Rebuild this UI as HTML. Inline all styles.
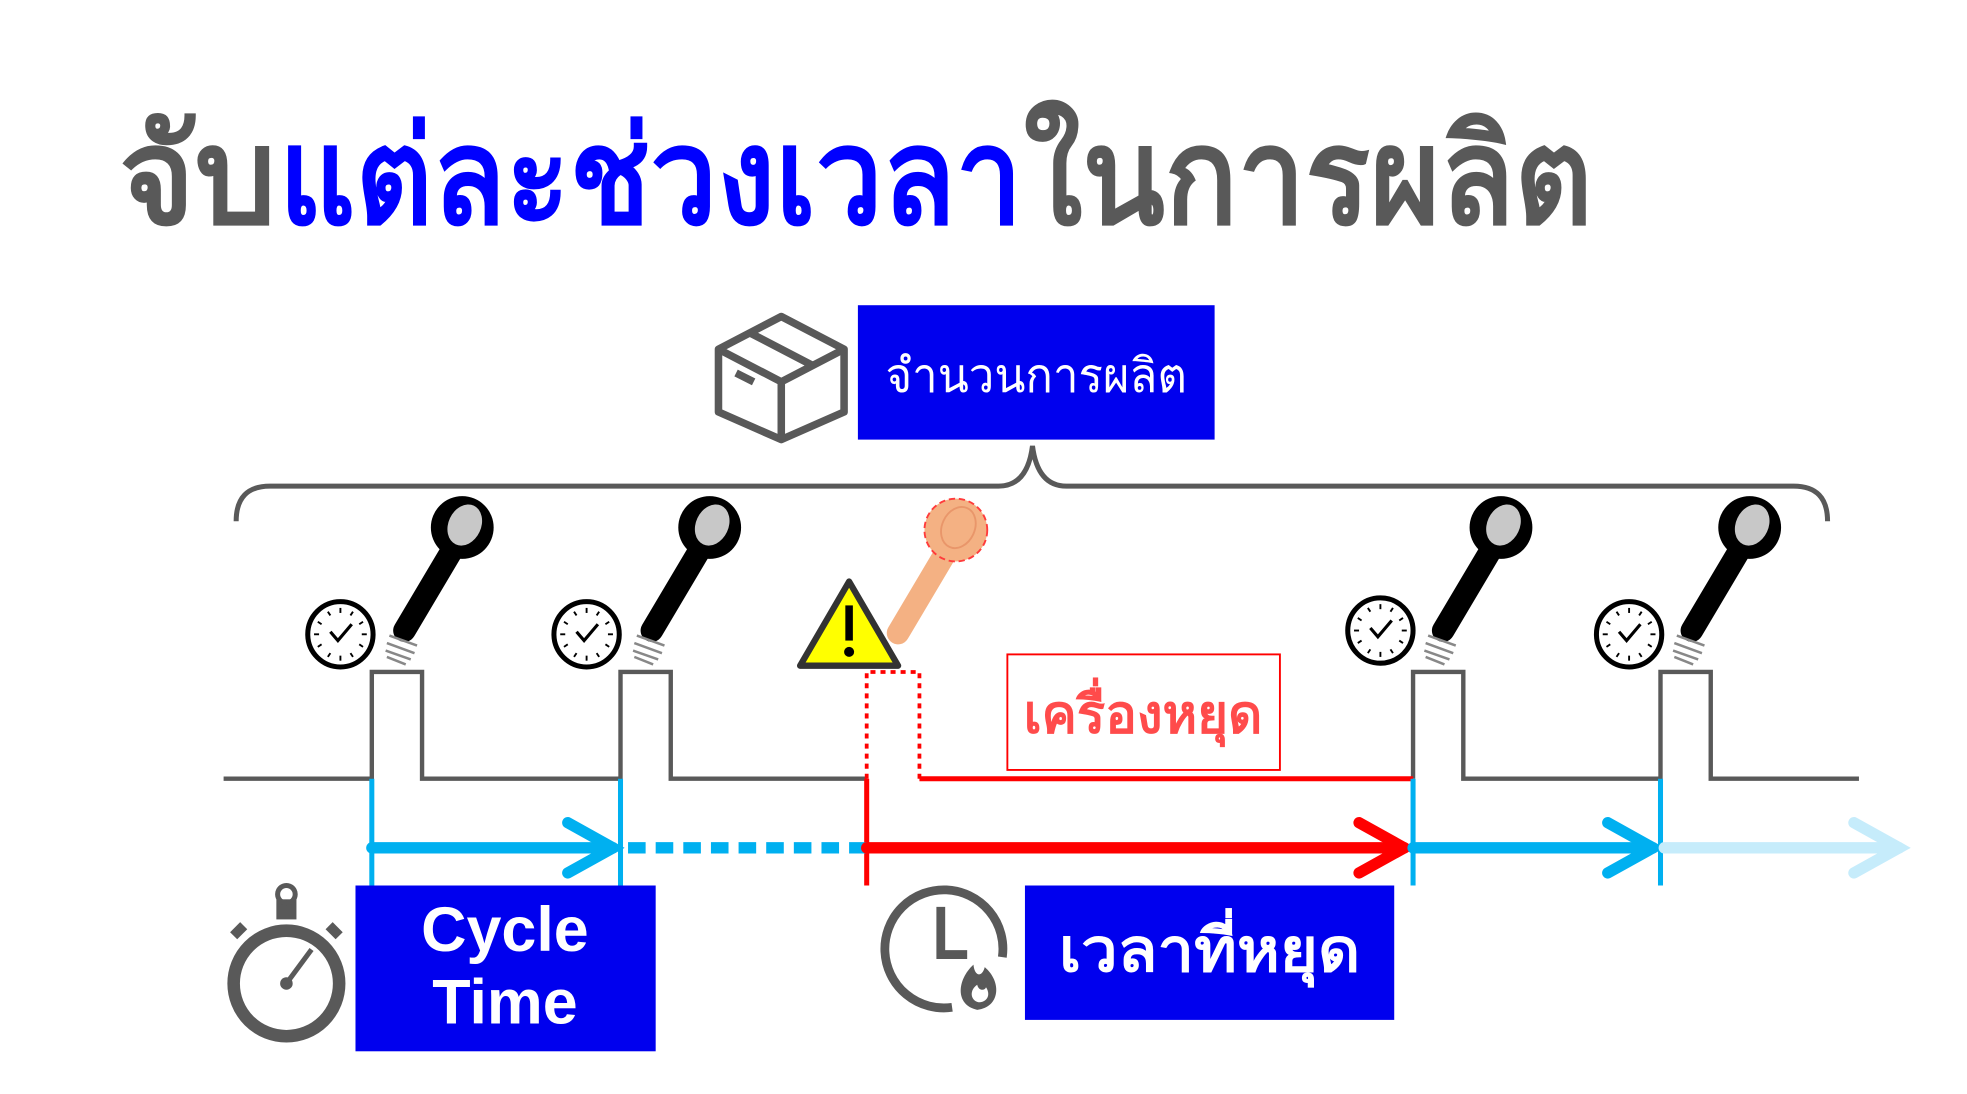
<!DOCTYPE html>
<html><head><meta charset="utf-8"><style>
html,body{margin:0;padding:0;background:#fff;width:1967px;height:1094px;overflow:hidden}
svg{display:block}
text{font-family:"Liberation Sans","DejaVu Sans",sans-serif}
</style></head><body>
<svg width="1967" height="1094" viewBox="0 0 1566 871" xmlns="http://www.w3.org/2000/svg">
<defs>
<g id="clk"><circle r="26" fill="#fff" stroke="#000" stroke-width="4"/>
<g stroke="#000" stroke-width="1.5"><line x1="0" y1="-21" x2="0" y2="-17"/><line x1="0" y1="21" x2="0" y2="17"/><line x1="-21" y1="0" x2="-17" y2="0"/><line x1="21" y1="0" x2="17" y2="0"/><line x1="10" y1="-18" x2="8" y2="-15"/><line x1="-10" y1="-18" x2="-8" y2="-15"/><line x1="10" y1="18" x2="8" y2="15"/><line x1="-10" y1="18" x2="-8" y2="15"/><line x1="18" y1="10" x2="15" y2="8"/><line x1="-18" y1="10" x2="-15" y2="8"/><line x1="18" y1="-10" x2="15" y2="-8"/><line x1="-18" y1="-10" x2="-15" y2="-8"/></g>
<polyline points="-8,-2 -2,5 9,-8" fill="none" stroke="#000" stroke-width="2.5"/></g>
<g id="sen">
<line x1="40" y1="-72" x2="2" y2="-8" stroke="#000" stroke-width="18" stroke-linecap="round"/>
<circle cx="48" cy="-90" r="25" fill="#000"/>
<ellipse cx="50" cy="-92" rx="13" ry="17" fill="#c8c8c8" transform="rotate(25 50 -92)"/>
<g stroke="#888" stroke-width="2"><line x1="-10" y1="-4" x2="12" y2="4"/><line x1="-12" y1="2" x2="10" y2="10"/><line x1="-13" y1="8" x2="7" y2="15"/><line x1="-12" y1="13" x2="3" y2="19"/></g>
</g>
</defs>
<rect width="1566" height="871" fill="#fff"/>
<!-- title -->
<text x="95" y="178" font-size="108" font-weight="bold" fill="#595959" textLength="125" lengthAdjust="spacingAndGlyphs">จับ</text>
<text x="222" y="178" font-size="108" font-weight="bold" fill="#0000ff" textLength="592" lengthAdjust="spacingAndGlyphs">แต่ละช่วงเวลา</text>
<text x="815" y="178" font-size="108" font-weight="bold" fill="#595959" textLength="453" lengthAdjust="spacingAndGlyphs">ในการผลิต</text>
<!-- box icon -->
<g fill="none" stroke="#595959" stroke-width="6" stroke-linejoin="round">
<path d="M622,252 L672,278 L672,328 L622,350 L572,328 L572,278 Z"/>
<path d="M572,278 L622,304 L672,278 M622,304 L622,350 M597,265 L647,291"/>
<line x1="586" y1="297" x2="600" y2="304"/>
</g>
<rect x="683" y="243" width="284" height="107" fill="#0000ee"/>
<text x="825" y="312" font-size="38" fill="#fff" text-anchor="middle" textLength="240" lengthAdjust="spacingAndGlyphs">จำนวนการผลิต</text>
<!-- brace -->
<path d="M188,415 Q188,387 215,387 L795,387 Q818,387 822,355 Q826,387 849,387 L1428,387 Q1455,387 1455,415" fill="none" stroke="#595959" stroke-width="4"/>
<!-- signal -->
<g fill="none" stroke="#595959" stroke-width="3.5">
<polyline points="178,620 296,620 296,535 336,535 336,620 494,620 494,535 534,535 534,620 690,620"/>
<polyline points="1125,620 1125,535 1165,535 1165,620 1322,620 1322,535 1362,535 1362,620 1480,620"/>
</g>
<polyline points="690,620 690,535 732,535 732,620" fill="none" stroke="#ff0000" stroke-width="3" stroke-dasharray="4,4"/>
<line x1="732" y1="620" x2="1125" y2="620" stroke="#ff0000" stroke-width="4"/>
<rect x="802" y="521" width="217" height="92" fill="#fff" stroke="#ff0000" stroke-width="1.5"/>
<text x="910" y="583" font-size="42" font-weight="bold" fill="#ff4b4b" text-anchor="middle" textLength="190" lengthAdjust="spacingAndGlyphs">เครื่องหยุด</text>
<!-- verticals -->
<g stroke-width="4">
<line x1="296" y1="620" x2="296" y2="705" stroke="#00b0f0"/>
<line x1="494" y1="620" x2="494" y2="705" stroke="#00b0f0"/>
<line x1="1125" y1="620" x2="1125" y2="705" stroke="#00b0f0"/>
<line x1="1322" y1="620" x2="1322" y2="705" stroke="#00b0f0"/>
<line x1="690" y1="620" x2="690" y2="705" stroke="#ff0000"/>
</g>
<!-- arrows -->
<g fill="none" stroke-width="9" stroke-linecap="round">
<line x1="296" y1="675" x2="488" y2="675" stroke="#00b0f0"/>
<polyline points="452,655 488,675 452,695" stroke="#00b0f0"/>
<line x1="500" y1="675" x2="690" y2="675" stroke="#00b0f0" stroke-dasharray="14,8" stroke-linecap="butt"/>
<line x1="690" y1="675" x2="1118" y2="675" stroke="#ff0000"/>
<polyline points="1082,655 1118,675 1082,695" stroke="#ff0000"/>
<line x1="1125" y1="675" x2="1316" y2="675" stroke="#00b0f0"/>
<polyline points="1280,655 1316,675 1280,695" stroke="#00b0f0"/>
<line x1="1325" y1="675" x2="1512" y2="675" stroke="#c6ecfb"/>
<polyline points="1476,655 1512,675 1476,695" stroke="#c6ecfb"/>
</g>
<!-- boxes bottom -->
<rect x="283" y="705" width="239" height="132" fill="#0000ee"/>
<text x="402" y="757" font-size="50" font-weight="bold" fill="#fff" text-anchor="middle">Cycle</text>
<text x="402" y="815" font-size="50" font-weight="bold" fill="#fff" text-anchor="middle">Time</text>
<rect x="816" y="705" width="294" height="107" fill="#0000ee"/>
<text x="963" y="773" font-size="48" font-weight="bold" fill="#fff" text-anchor="middle" textLength="240" lengthAdjust="spacingAndGlyphs">เวลาที่หยุด</text>
<!-- stopwatch -->
<g fill="none" stroke="#595959">
<circle cx="228" cy="783" r="42" stroke-width="10"/>
<rect x="220" y="716" width="16" height="16" fill="#595959" stroke="none"/>
<circle cx="228" cy="712" r="7" stroke-width="4"/>
<line x1="186" y1="745" x2="194" y2="737" stroke-width="8"/>
<line x1="270" y1="745" x2="262" y2="737" stroke-width="8"/>
<line x1="228" y1="783" x2="248" y2="756" stroke-width="4"/>
</g>
<circle cx="228" cy="783" r="5" fill="#595959"/>
<!-- clock fire -->
<g fill="none" stroke="#595959" stroke-width="7">
<path d="M798,762 A47,47 0 1 0 758,802"/>
<polyline points="749,722 749,760 770,760"/>
</g>
<path d="M778,804 C760,800 762,780 775,768 C776,778 782,778 784,770 C798,782 796,802 778,804 Z" fill="#595959"/>
<path d="M779,798 C772,796 772,788 778,784 C779,789 784,789 785,786 C789,792 786,798 779,798 Z" fill="#fff"/>
<!-- clocks -->
<use href="#clk" x="271" y="505"/>
<use href="#clk" x="467" y="505"/>
<use href="#clk" x="1099" y="502"/>
<use href="#clk" x="1297" y="505"/>
<!-- sensors -->
<use href="#sen" x="320" y="510"/>
<use href="#sen" x="517" y="510"/>
<use href="#sen" x="1147" y="510"/>
<use href="#sen" x="1345" y="510"/>
<!-- ghost sensor -->
<g transform="translate(713,512)">
<line x1="40" y1="-72" x2="2" y2="-8" stroke="#f4b183" stroke-width="18" stroke-linecap="round"/>
<circle cx="48" cy="-90" r="25" fill="#f4b183" stroke="#ff3b3b" stroke-width="1.5" stroke-dasharray="5,3"/>
<ellipse cx="50" cy="-92" rx="13" ry="17" fill="none" stroke="#e9966a" stroke-width="1.5" transform="rotate(25 50 -92)"/>
</g>
<!-- warning -->
<path d="M676,463 L715,530 L637,530 Z" fill="#ffff00" stroke="#333" stroke-width="5" stroke-linejoin="round"/>
<rect x="673" y="482" width="6" height="28" fill="#000"/>
<circle cx="676" cy="519" r="4" fill="#000"/>
</svg>
</body></html>
